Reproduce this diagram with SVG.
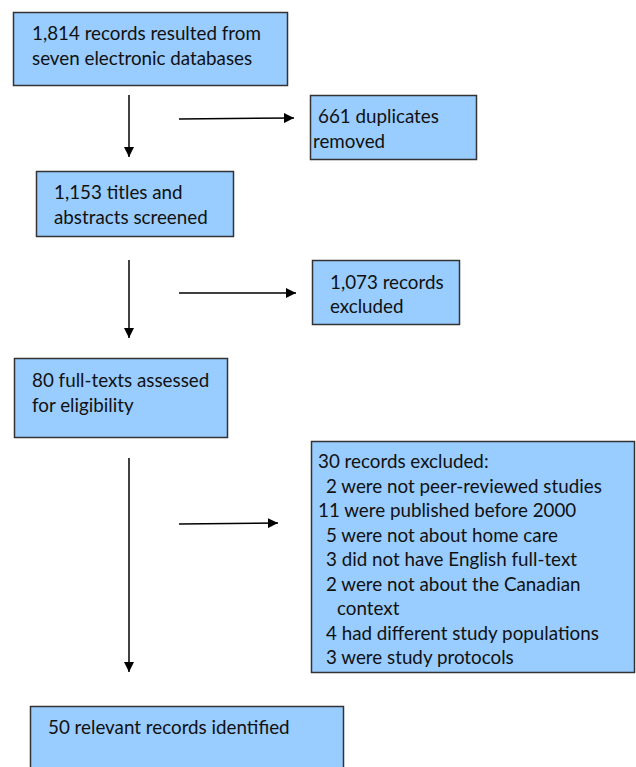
<svg xmlns="http://www.w3.org/2000/svg" width="636" height="767" viewBox="0 0 636 767">
<defs>
<style>
.box{fill:#99ccff;stroke:#333;stroke-width:1.5}
.t{font-family:Lato,"Open Sans","Liberation Sans",sans-serif;font-size:18.8px;fill:#111}
.c{stroke:#000;stroke-width:1.5;fill:none;marker-end:url(#ah)}
</style>
<marker id="ah" viewBox="0 0 10 10" refX="10" refY="5" markerWidth="10" markerHeight="10" markerUnits="userSpaceOnUse" orient="auto">
<path d="M0,0 L10,5 L0,10 z" fill="#000"/>
</marker>
</defs>
<rect width="636" height="767" fill="#fff"/>
<g id="connectors">
<line class="c" x1="129" y1="95" x2="129" y2="157"/>
<line class="c" x1="179" y1="119" x2="294" y2="118"/>
<line class="c" x1="129" y1="260" x2="129" y2="338"/>
<line class="c" x1="179" y1="293" x2="296" y2="293"/>
<line class="c" x1="129" y1="458" x2="129" y2="672"/>
<line class="c" x1="179" y1="524" x2="278" y2="523"/>
</g>
<g id="n1">
<rect class="box" x="13.5" y="12.5" width="274" height="73"/>
<text class="t" x="32" y="40">1,814 records resulted from</text>
<text class="t" x="32" y="65">seven electronic databases</text>
</g>
<g id="n2">
<rect class="box" x="310.5" y="95.5" width="166" height="64"/>
<text class="t" x="318" y="123">661 duplicates</text>
<text class="t" x="313" y="148">removed</text>
</g>
<g id="n3">
<rect class="box" x="36.5" y="171.5" width="197" height="65"/>
<text class="t" x="54" y="199">1,153 titles and</text>
<text class="t" x="54" y="224">abstracts screened</text>
</g>
<g id="n4">
<rect class="box" x="312.5" y="260.5" width="147" height="64"/>
<text class="t" x="330" y="289">1,073 records</text>
<text class="t" x="330" y="313">excluded</text>
</g>
<g id="n5">
<rect class="box" x="14.5" y="358.5" width="213" height="79"/>
<text class="t" x="32" y="387">80 full-texts assessed</text>
<text class="t" x="32" y="412">for eligibility</text>
</g>
<g id="n6">
<rect class="box" x="311.5" y="441.5" width="323" height="231"/>
<text class="t" x="318" y="468">30 records excluded:</text>
<text class="t" x="326" y="492.5">2 were not peer-reviewed studies</text>
<text class="t" x="318" y="517">11 were published before 2000</text>
<text class="t" x="326" y="541.5">5 were not about home care</text>
<text class="t" x="326" y="566">3 did not have English full-text</text>
<text class="t" x="326" y="590.5">2 were not about the Canadian</text>
<text class="t" x="337" y="615">context</text>
<text class="t" x="326" y="639.5">4 had different study populations</text>
<text class="t" x="326" y="664">3 were study protocols</text>
</g>
<g id="n7">
<rect class="box" x="30.5" y="706.5" width="313" height="70"/>
<text class="t" x="48" y="734">50 relevant records identified</text>
</g>
</svg>
